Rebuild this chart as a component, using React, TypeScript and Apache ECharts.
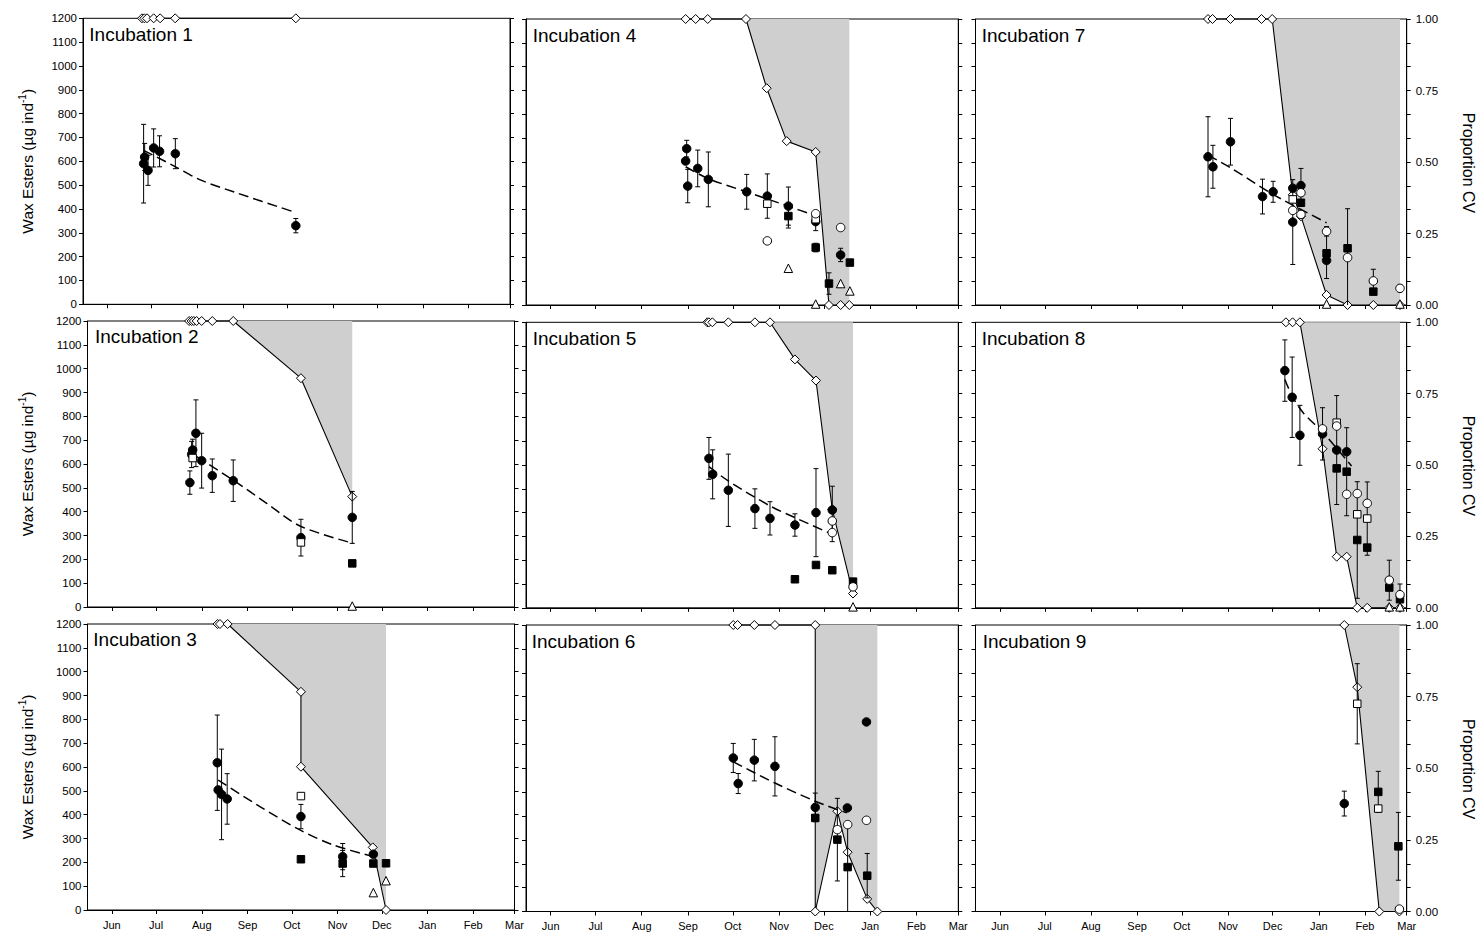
import { useEffect, useRef } from 'react';
import * as echarts from 'echarts';

const FONT = '"Liberation Sans", Arial, Helvetica, sans-serif';

// Time axis: days counted from 1 June; ticks sit on the first of each month
const monthStarts = [0, 30, 61, 92, 122, 153, 183, 214, 245, 273];
const monthLabels = ['Jun', 'Jul', 'Aug', 'Sep', 'Oct', 'Nov', 'Dec', 'Jan', 'Feb', 'Mar'];
const cvTickLabels = ['0.00', '0.25', '0.50', '0.75', '1.00'];

// Proportion CV (open diamonds, right axis): [incubation, day, proportion]
const cvPoints = [
  [1, 23.5, 1], [1, 25.1, 1], [1, 26.9, 1], [1, 31.4, 1], [1, 35.8, 1], [1, 46.0, 1], [1, 127.8, 1],
  [2, 52.4, 1], [2, 54.1, 1], [2, 55.6, 1], [2, 57.5, 1], [2, 60.9, 1], [2, 68.1, 1], [2, 82.3, 1], [2, 128.2, 0.8], [2, 163.0, 0.386],
  [3, 71.7, 1], [3, 73.3, 1], [3, 78.5, 1], [3, 128.2, 0.763], [3, 128.2, 0.501], [3, 176.9, 0.219], [3, 185.9, 0],
  [4, 90.4, 1], [4, 97.1, 1], [4, 105.2, 1], [4, 130.8, 1], [4, 144.7, 0.758], [4, 158.1, 0.573], [4, 177.5, 0.535], [4, 186.4, 0], [4, 194.2, 0], [4, 200.0, 0],
  [5, 104.9, 1], [5, 106.0, 1], [5, 108.3, 1], [5, 119.0, 1], [5, 136.8, 1], [5, 146.9, 1], [5, 163.6, 0.87], [5, 177.7, 0.796], [5, 188.6, 0.345], [5, 202.5, 0.05],
  [6, 122.3, 1], [6, 125.2, 1], [6, 136.4, 1], [6, 150.2, 1], [6, 177.2, 1], [6, 177.2, 0], [6, 192.0, 0.35], [6, 198.9, 0.207], [6, 212.0, 0.044], [6, 218.8, 0],
  [7, 139.6, 1], [7, 142.6, 1], [7, 154.7, 1], [7, 175.5, 1], [7, 182.7, 1], [7, 196.5, 0.385], [7, 202.0, 0.31], [7, 219.2, 0.035], [7, 233.3, 0], [7, 250.6, 0], [7, 268.5, 0],
  [8, 191.9, 1], [8, 196.4, 1], [8, 201.3, 1], [8, 216.5, 0.557], [8, 226.0, 0.179], [8, 232.7, 0.179], [8, 239.8, 0], [8, 246.5, 0], [8, 261.3, 0], [8, 268.5, 0],
  [9, 231.1, 1], [9, 239.8, 0.783], [9, 254.6, 0], [9, 268.1, 0],
];

// Wax ester means (filled circles): [incubation, day, mean, sd]
const waxMeans = [
  [1, 24.6, 590, 165], [1, 25.3, 618, 57], [1, 27.6, 562, 63], [1, 31.4, 656, 80], [1, 35.4, 642, 65], [1, 46.1, 632, 63], [1, 127.8, 330, 30],
  [2, 52.9, 522, 49], [2, 54.1, 640, 55], [2, 54.8, 659, 45], [2, 57.0, 729, 140], [2, 60.9, 614, 115], [2, 68.1, 551, 70], [2, 82.3, 530, 87], [2, 128.2, 291, 77], [2, 163.0, 376, 109],
  [3, 71.5, 618, 200], [3, 72.1, 504, 0], [3, 74.4, 485, 190], [3, 78.2, 466, 106], [3, 128.2, 392, 51], [3, 156.5, 224, 55], [3, 177.3, 234, 0],
  [4, 91.1, 656, 35], [4, 90.4, 604, 0], [4, 91.8, 499, 70], [4, 98.5, 573, 77], [4, 105.6, 527, 115], [4, 131.3, 475, 73], [4, 145.1, 457, 93], [4, 159.2, 415, 80], [4, 177.5, 350, 38], [4, 194.2, 210, 28],
  [5, 106.0, 628, 88], [5, 108.5, 561, 103], [5, 119.0, 494, 152], [5, 136.8, 417, 83], [5, 146.9, 376, 70], [5, 163.6, 348, 47], [5, 177.7, 400, 185], [5, 188.6, 411, 100],
  [6, 122.3, 643, 61], [6, 125.6, 536, 42], [6, 136.4, 634, 87], [6, 150.2, 608, 124], [6, 177.2, 436, 60], [6, 198.7, 434, 0], [6, 211.5, 794, 0],
  [7, 139.6, 622, 168], [7, 142.9, 580, 90], [7, 154.7, 685, 98], [7, 176.2, 455, 73], [7, 183.3, 475, 44], [7, 196.5, 490, 0], [7, 196.5, 348, 178], [7, 202.0, 501, 72], [7, 219.2, 187, 0],
  [8, 191.2, 997, 129], [8, 196.1, 885, 169], [8, 201.3, 725, 126], [8, 216.5, 731, 110], [8, 226.0, 663, 229], [8, 232.7, 656, 0],
  [9, 231.1, 452, 52],
];

// Filled squares: [incubation, day, value, sd]
const filledSquares = [
  [2, 163.0, 183, 0],
  [3, 128.2, 213, 0], [3, 156.5, 195, 55], [3, 177.3, 195, 0], [3, 185.9, 196, 0],
  [4, 159.2, 373, 50], [4, 177.5, 241, 18], [4, 186.4, 90, 45], [4, 200.4, 178, 0],
  [5, 163.6, 120, 0], [5, 177.7, 180, 0], [5, 188.6, 158, 0], [5, 202.5, 110, 0],
  [6, 177.2, 392, 0], [6, 192.0, 301, 173], [6, 198.9, 186, 187], [6, 212.0, 150, 93],
  [7, 202.0, 429, 0], [7, 219.2, 217, 106], [7, 233.3, 238, 0], [7, 250.6, 56, 0],
  [8, 226.0, 586, 0], [8, 232.7, 572, 185], [8, 239.8, 285, 245], [8, 246.5, 253, 0], [8, 261.3, 85, 0], [8, 268.5, 36, 0],
  [9, 253.9, 501, 86], [9, 267.4, 273, 142],
];

// Open squares: [incubation, day, value, sd]
const openSquares = [
  [2, 54.8, 625, 0], [2, 128.2, 271, 0],
  [3, 128.2, 478, 0],
  [4, 145.1, 425, 0], [4, 177.5, 360, 0],
  [7, 196.5, 443, 0],
  [8, 226.0, 778, 0], [8, 239.8, 393, 0], [8, 246.5, 375, 154],
  [9, 239.8, 870, 168], [9, 253.9, 431, 0],
];

// Open circles: [incubation, day, value, sd]
const openCircles = [
  [4, 145.1, 269, 0], [4, 177.5, 383, 0], [4, 194.2, 325, 0],
  [5, 188.6, 365, 0], [5, 188.6, 316, 38], [5, 202.5, 88, 0],
  [6, 192.0, 343, 0], [6, 198.9, 364, 0], [6, 211.5, 382, 0],
  [7, 196.5, 397, 0], [7, 202.0, 471, 0], [7, 202.0, 380, 0], [7, 219.2, 309, 20], [7, 233.3, 199, 205], [7, 250.6, 101, 49], [7, 268.5, 70, 0],
  [8, 216.5, 752, 0], [8, 226.0, 764, 0], [8, 232.7, 477, 0], [8, 239.8, 480, 0], [8, 246.5, 439, 0], [8, 261.3, 116, 84], [8, 268.5, 55, 45],
  [9, 268.1, 10, 0],
];

// Open triangles: [incubation, day, value]
const openTriangles = [
  [2, 163.0, 4],
  [3, 177.3, 73], [3, 185.9, 123],
  [4, 159.2, 154], [4, 177.5, 4], [4, 194.2, 90], [4, 200.4, 59],
  [5, 202.5, 4],
  [7, 219.2, 4], [7, 268.5, 4],
  [8, 261.3, 4], [8, 268.5, 4],
];

// Fitted decline of wax esters (dashed): [incubation, day, value]
const fitCurves = [
  [1, 24.6, 646], [1, 46.0, 578], [1, 63.0, 522], [1, 86.0, 471], [1, 127.8, 385],
  [2, 57.5, 631], [2, 82.3, 532], [2, 105.0, 435], [2, 127.5, 340], [2, 163.7, 267],
  [3, 72.1, 545], [3, 100.4, 434], [3, 127.5, 336], [3, 150.1, 273], [3, 177.3, 224],
  [4, 90.4, 580], [4, 105.6, 530], [4, 131.0, 475], [4, 158.0, 417], [4, 178.0, 373],
  [5, 106.0, 593], [5, 119.0, 533], [5, 146.9, 428], [5, 163.6, 379], [5, 188.6, 309],
  [6, 122.3, 627], [6, 150.2, 538], [6, 177.2, 462], [6, 198.3, 413],
  [7, 139.6, 629], [7, 154.7, 576], [7, 183.3, 464], [7, 219.2, 345],
  [8, 191.2, 960], [8, 196.1, 890], [8, 203.5, 820], [8, 216.9, 736], [8, 236.0, 596],
];

// Panel boxes [left, top, width, height] in page pixels, incubations 1..9
const panelBoxes = [
  [83, 18.3, 427, 286],
  [87.5, 321, 427, 286],
  [87.5, 624, 427, 286],
  [526, 19, 432.3, 286],
  [526, 322.3, 432.3, 285.5],
  [526, 625, 432.3, 286.5],
  [975.5, 19, 431.2, 286],
  [975.5, 322.3, 431.2, 285.5],
  [975.5, 625, 431.2, 286.5],
];

// Panel title anchors [x, y]
const titlePos = [
  [89.3, 34], [95, 336.3], [93.3, 639.7],
  [532.7, 35], [532.7, 338.3], [531.7, 641.3],
  [981.7, 35], [981.7, 338.3], [982.7, 641.7],
];

const black = { color: '#000', width: 1 };

function rowsFor(rows: number[][], inc: number) {
  return rows.filter((r) => r[0] === inc);
}

function errorRows(inc: number) {
  const out: number[][] = [];
  [waxMeans, filledSquares, openSquares, openCircles].forEach((rows) => {
    rowsFor(rows, inc).forEach((r) => {
      if (r[3] > 0) out.push([r[1], r[2] - r[3], r[2] + r[3]]);
    });
  });
  return out;
}

function renderErrorBar(_params: any, api: any) {
  const x = api.value(0);
  const lo = api.coord([x, api.value(1)]);
  const hi = api.coord([x, api.value(2)]);
  const cap = 2.5;
  const style = { stroke: '#000', lineWidth: 1 };
  return {
    type: 'group',
    children: [
      { type: 'line', shape: { x1: lo[0], y1: lo[1], x2: hi[0], y2: hi[1] }, style },
      { type: 'line', shape: { x1: hi[0] - cap, y1: hi[1], x2: hi[0] + cap, y2: hi[1] }, style },
      { type: 'line', shape: { x1: lo[0] - cap, y1: lo[1], x2: lo[0] + cap, y2: lo[1] }, style },
    ],
  };
}

function markerSeries(i: number, rows: number[][], inc: number, symbol: string, size: number, filled: boolean, z: number) {
  return {
    type: 'scatter',
    xAxisIndex: i,
    yAxisIndex: 2 * i,
    data: rowsFor(rows, inc).map((r) => [r[1], r[2]]),
    symbol,
    symbolSize: size,
    itemStyle: { color: filled ? '#000' : '#fff', borderColor: '#000', borderWidth: 1, opacity: 1 },
    z,
    silent: true,
  };
}

function buildOption() {
  const grid: any[] = [];
  const xAxis: any[] = [];
  const yAxis: any[] = [];
  const series: any[] = [];
  const graphic: any[] = [];

  for (let inc = 1; inc <= 9; inc++) {
    const i = inc - 1;
    const col = Math.floor(i / 3);
    const row = i % 3;
    const [left, top, width, height] = panelBoxes[i];

    grid.push({ left, top, width, height, show: true, borderColor: '#000', borderWidth: 1, outerBoundsMode: 'none' });

    xAxis.push({
      type: 'value',
      gridIndex: i,
      min: -16.5,
      max: 273,
      position: 'bottom',
      axisLine: { show: true, onZero: false, lineStyle: black },
      axisTick: { show: true, customValues: monthStarts, length: 4, lineStyle: black },
      axisLabel: {
        show: row === 2,
        customValues: monthStarts,
        formatter: (v: number) => monthLabels[monthStarts.indexOf(v)] ?? '',
        fontFamily: FONT,
        fontSize: 11,
        color: '#000',
        margin: 9,
      },
      splitLine: { show: false },
    });

    yAxis.push({
      type: 'value',
      gridIndex: i,
      position: 'left',
      min: 0,
      max: 1200,
      interval: 100,
      axisLine: { show: true, onZero: false, lineStyle: black },
      axisTick: { show: true, length: 4, lineStyle: black },
      axisLabel: {
        show: col === 0,
        formatter: (v: number) => String(v),
        fontFamily: FONT,
        fontSize: 11.5,
        color: '#000',
        margin: 6,
      },
      splitLine: { show: false },
    });

    yAxis.push({
      type: 'value',
      gridIndex: i,
      position: 'right',
      min: 0,
      max: 1,
      interval: 0.25,
      axisLine: { show: true, onZero: false, lineStyle: black },
      axisTick: { show: true, length: 4, lineStyle: black },
      minorTick: { show: true, splitNumber: 3, length: 4, lineStyle: black },
      axisLabel: {
        show: col === 2,
        formatter: (v: number) => cvTickLabels[Math.round(v * 4)] ?? '',
        fontFamily: FONT,
        fontSize: 11.5,
        color: '#000',
        margin: 9,
      },
      splitLine: { show: false },
      minorSplitLine: { show: false },
    });

    // Shaded region above the proportion-CV line, with the diamonds on it
    series.push({
      type: 'line',
      xAxisIndex: i,
      yAxisIndex: 2 * i + 1,
      data: rowsFor(cvPoints, inc).map((r) => [r[1], r[2]]),
      symbol: 'diamond',
      symbolSize: 9,
      showSymbol: true,
      clip: false,
      lineStyle: { color: '#000', width: 1.1 },
      itemStyle: { color: '#fff', borderColor: '#000', borderWidth: 1 },
      areaStyle: { color: '#cfcfcf', opacity: 1, origin: 'end' },
      z: 2,
      silent: true,
    });

    const fit = rowsFor(fitCurves, inc);
    if (fit.length) {
      series.push({
        type: 'line',
        xAxisIndex: i,
        yAxisIndex: 2 * i,
        data: fit.map((r) => [r[1], r[2]]),
        symbol: 'none',
        smooth: 0.3,
        lineStyle: { color: '#000', width: 1.5, type: [10, 5] },
        z: 3,
        silent: true,
      });
    }

    series.push({
      type: 'custom',
      xAxisIndex: i,
      yAxisIndex: 2 * i,
      data: errorRows(inc),
      encode: { x: 0, y: [1, 2] },
      renderItem: renderErrorBar,
      clip: true,
      z: 4,
      silent: true,
    });

    series.push(markerSeries(i, filledSquares, inc, 'rect', 7.5, true, 5));
    series.push(markerSeries(i, waxMeans, inc, 'circle', 8.5, true, 5));
    series.push(markerSeries(i, openSquares, inc, 'rect', 7.5, false, 6));
    series.push(markerSeries(i, openCircles, inc, 'circle', 8.5, false, 6));
    series.push(markerSeries(i, openTriangles, inc, 'triangle', 8.5, false, 6));

    graphic.push({
      type: 'text',
      x: titlePos[i][0],
      y: titlePos[i][1],
      z: 10,
      style: {
        text: `Incubation ${inc}`,
        fontFamily: FONT,
        fontSize: 19,
        fill: '#000',
        align: 'left',
        verticalAlign: 'middle',
      },
    });

    const centerY = top + height / 2;
    if (col === 0) {
      graphic.push({
        type: 'text',
        x: 27,
        y: centerY,
        rotation: Math.PI / 2,
        style: {
          text: 'Wax Esters (µg ind{sup|-1})',
          fontFamily: FONT,
          fontSize: 15.5,
          lineHeight: 19,
          fill: '#000',
          align: 'center',
          verticalAlign: 'middle',
          rich: { sup: { fontFamily: FONT, fontSize: 10, lineHeight: 11, verticalAlign: 'top', fill: '#000' } },
        },
      });
    }
    if (col === 2) {
      graphic.push({
        type: 'text',
        x: 1468,
        y: centerY + 1,
        rotation: -Math.PI / 2,
        style: {
          text: 'Proportion CV',
          fontFamily: FONT,
          fontSize: 16,
          fill: '#000',
          align: 'center',
          verticalAlign: 'middle',
        },
      });
    }
  }

  return {
    animation: false,
    backgroundColor: '#fff',
    grid,
    xAxis,
    yAxis,
    series,
    graphic: { elements: graphic },
  };
}

export default function App() {
  const ref = useRef<HTMLDivElement>(null);
  useEffect(() => {
    if (!ref.current) return;
    const chart = echarts.init(ref.current, undefined, { renderer: 'svg' });
    chart.setOption(buildOption() as any);
    return () => chart.dispose();
  }, []);
  return (
    <div
      ref={ref}
      style={{ position: 'fixed', left: 0, top: 0, width: 1484, height: 936, background: '#fff' }}
    />
  );
}
